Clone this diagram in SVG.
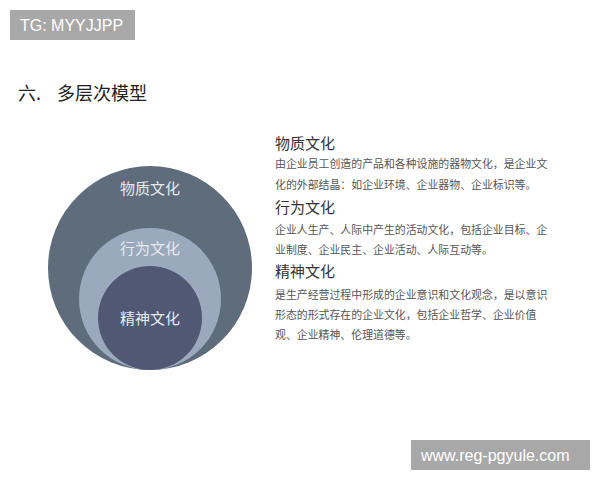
<svg xmlns="http://www.w3.org/2000/svg" width="600" height="480" viewBox="0 0 600 480">
<style>
.cjk{font-family:"Noto Sans CJK SC","Liberation Sans",sans-serif}
.lat{font-family:"Liberation Sans","Noto Sans CJK SC",sans-serif}
.in{fill:#e6eaef;font-size:15px;text-anchor:middle}
.hd{fill:#333;font-size:15px}
.bd{fill:#555;font-size:10.9px}
.tag{fill:#a8a8a8}
.tagt{fill:#fff;font-size:16px}
</style>
<rect width="600" height="480" fill="#fff"/>
<g id="tag-top">
<rect class="tag" x="10" y="10" width="125" height="30"/>
<text class="lat tagt" x="20" y="31">TG: MYYJJPP</text>
</g>
<g id="title">
<text class="cjk" x="18" y="100" font-size="18" fill="#222">六.</text>
<text class="cjk" x="57" y="100" font-size="18" fill="#222">多层次模型</text>
</g>
<g id="node-outer">
<circle cx="150" cy="268" r="102" fill="#5e6c7b"/>
<text class="cjk in" x="150" y="194">物质文化</text>
</g>
<g id="node-middle">
<circle cx="150" cy="299" r="71" fill="#9ba9bc"/>
<text class="cjk in" x="150" y="254">行为文化</text>
</g>
<g id="node-inner">
<circle cx="150" cy="318" r="52" fill="#505873"/>
<text class="cjk in" x="150" y="324">精神文化</text>
</g>
<g id="connectors"></g>
<g id="desc-material">
<text class="cjk hd" x="275" y="149">物质文化</text>
<text class="cjk bd" x="275" y="168">由企业员工创造的产品和各种设施的器物文化，是企业文</text>
<text class="cjk bd" x="275" y="189">化的外部结晶：如企业环境、企业器物、企业标识等。</text>
</g>
<g id="desc-behavior">
<text class="cjk hd" x="275" y="213">行为文化</text>
<text class="cjk bd" x="275" y="234">企业人生产、人际中产生的活动文化，包括企业目标、企</text>
<text class="cjk bd" x="275" y="254">业制度、企业民主、企业活动、人际互动等。</text>
</g>
<g id="desc-spirit">
<text class="cjk hd" x="275" y="277">精神文化</text>
<text class="cjk bd" x="275" y="299">是生产经营过程中形成的企业意识和文化观念，是以意识</text>
<text class="cjk bd" x="275" y="319">形态的形式存在的企业文化，包括企业哲学、企业价值</text>
<text class="cjk bd" x="275" y="339">观、企业精神、伦理道德等。</text>
</g>
<g id="tag-bottom">
<rect class="tag" x="411" y="440" width="179" height="30"/>
<text class="lat tagt" x="421" y="461">www.reg-pgyule.com</text>
</g>
</svg>
